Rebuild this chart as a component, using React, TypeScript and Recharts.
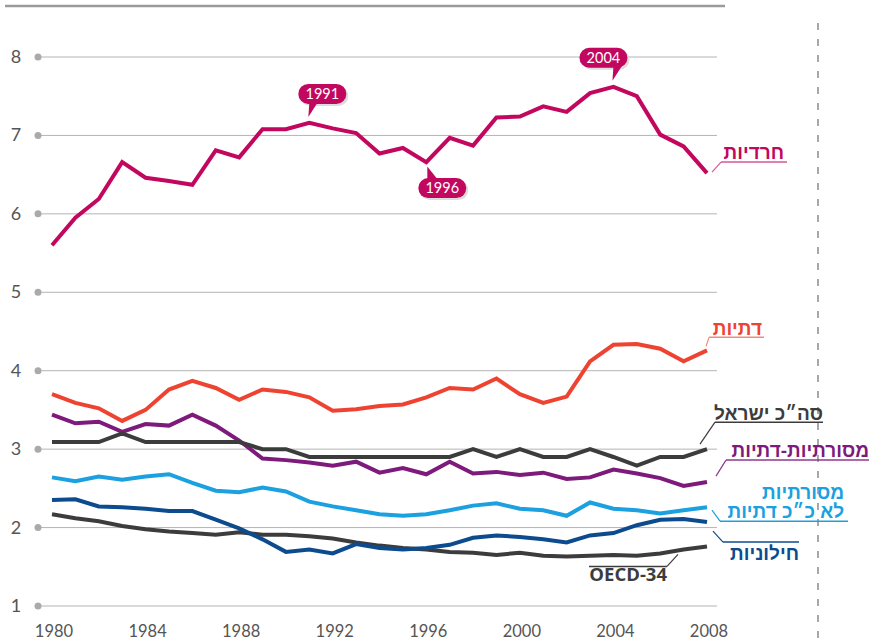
import React from 'react';
import { LineChart, Line, XAxis, YAxis, CartesianGrid } from 'recharts';

// fertility rate, Israel by religiosity vs OECD
const years = [1980, 1981, 1982, 1983, 1984, 1985, 1986, 1987, 1988, 1989, 1990, 1991, 1992, 1993, 1994, 1995, 1996, 1997, 1998, 1999, 2000, 2001, 2002, 2003, 2004, 2005, 2006, 2007, 2008];
const haredi = [5.60, 5.95, 6.19, 6.66, 6.46, 6.42, 6.37, 6.81, 6.72, 7.08, 7.08, 7.16, 7.09, 7.03, 6.77, 6.84, 6.66, 6.97, 6.87, 7.23, 7.24, 7.37, 7.30, 7.54, 7.62, 7.50, 7.01, 6.86, 6.52];
const datiyot = [3.70, 3.59, 3.52, 3.36, 3.50, 3.76, 3.87, 3.78, 3.63, 3.76, 3.73, 3.66, 3.49, 3.51, 3.55, 3.57, 3.66, 3.78, 3.76, 3.90, 3.70, 3.59, 3.67, 4.12, 4.33, 4.34, 4.28, 4.12, 4.26];
const totalIsrael = [3.09, 3.09, 3.09, 3.20, 3.09, 3.09, 3.09, 3.09, 3.09, 3.00, 3.00, 2.90, 2.90, 2.90, 2.90, 2.90, 2.90, 2.90, 3.00, 2.90, 3.00, 2.90, 2.90, 3.00, 2.90, 2.79, 2.90, 2.90, 3.00];
const masortiyotDatiyot = [3.44, 3.33, 3.35, 3.22, 3.32, 3.30, 3.44, 3.30, 3.11, 2.88, 2.86, 2.83, 2.79, 2.84, 2.70, 2.76, 2.68, 2.84, 2.69, 2.71, 2.67, 2.70, 2.62, 2.64, 2.74, 2.69, 2.63, 2.53, 2.58];
const masortiyot = [2.64, 2.59, 2.65, 2.61, 2.65, 2.68, 2.57, 2.47, 2.45, 2.51, 2.46, 2.33, 2.27, 2.22, 2.17, 2.15, 2.17, 2.22, 2.28, 2.31, 2.24, 2.22, 2.15, 2.32, 2.24, 2.22, 2.18, 2.22, 2.26];
const hiloniyot = [2.35, 2.36, 2.27, 2.26, 2.24, 2.21, 2.21, 2.10, 1.99, 1.85, 1.69, 1.72, 1.67, 1.79, 1.74, 1.72, 1.74, 1.78, 1.87, 1.90, 1.88, 1.85, 1.81, 1.90, 1.93, 2.03, 2.10, 2.11, 2.07];
const oecd = [2.17, 2.12, 2.08, 2.02, 1.98, 1.95, 1.93, 1.91, 1.94, 1.91, 1.91, 1.89, 1.86, 1.81, 1.77, 1.74, 1.72, 1.69, 1.68, 1.65, 1.68, 1.64, 1.63, 1.64, 1.65, 1.64, 1.67, 1.72, 1.76];

const xTicks = [1980, 1984, 1988, 1992, 1996, 2000, 2004, 2008];
const yTicks = [1, 2, 3, 4, 5, 6, 7, 8];

const bubbleYears = [1991, 1996, 2004];
const bubbleBelow = [1996];

const data = years.map((year, i) => ({
  year,
  haredi: haredi[i],
  datiyot: datiyot[i],
  total: totalIsrael[i],
  masDat: masortiyotDatiyot[i],
  masortiyot: masortiyot[i],
  hiloniyot: hiloniyot[i],
  oecd: oecd[i],
}));

const LAST = years.length - 1;
const HEB_FONT = '"Liberation Sans", "DejaVu Sans", sans-serif';

type EndCfg = {
  lines: { text: string; dx: number; dy: number }[];
  leader: [number, number, number, number];
  under: [number, number, number];
  color: string;
  leaderColor: string;
  size?: number;
  family?: string;
};

const endLabels: Record<string, EndCfg> = {
  haredi: {
    lines: [{ text: 'חרדיות', dx: 77, dy: -14 }],
    leader: [5, -1, 14, -11], under: [14, 80, -11],
    color: '#c2075e', leaderColor: '#d9569a',
  },
  datiyot: {
    lines: [{ text: 'דתיות', dx: 55, dy: -15 }],
    leader: [-1, -4, 2, -13], under: [2, 57, -13],
    color: '#ee4331', leaderColor: '#f28a7f',
  },
  total: {
    lines: [{ text: 'סה״כ ישראל', dx: 116, dy: -29 }],
    leader: [-7, -5, 8, -27], under: [8, 116, -27],
    color: '#3c3c3c', leaderColor: '#3c3c3c',
  },
  masDat: {
    lines: [{ text: 'מסורתיות-דתיות', dx: 162, dy: -25 }],
    leader: [9, -6, 19, -22], under: [19, 162, -22],
    color: '#7e1a7b', leaderColor: '#8e3a8b',
  },
  masortiyot: {
    lines: [
      { text: 'מסורתיות', dx: 137, dy: -8 },
      { text: 'לא כ״כ דתיות', dx: 137, dy: 11 },
    ],
    leader: [5, 3, 13, 14], under: [13, 141, 14],
    color: '#1ba0e0', leaderColor: '#1ba0e0',
  },
  hiloniyot: {
    lines: [{ text: 'חילוניות', dx: 92, dy: 38 }],
    leader: [6, 9, 16, 20], under: [16, 92, 20],
    color: '#0c4b8e', leaderColor: '#0c4b8e',
  },
  oecd: {
    lines: [{ text: 'OECD-34', dx: -40, dy: 35 }],
    leader: [-29, 8, -40, 20], under: [-118, -40, 20],
    color: '#3c3c3c', leaderColor: '#3c3c3c',
    size: 18.5, family: '"Open Sans", sans-serif',
  },
};

const renderEnd = (cfg: EndCfg, x: number, y: number, key: string) => {
  const [a, b, c, d] = cfg.leader;
  const [u1, u2, uy] = cfg.under;
  return (
    <g key={key}>
      <line x1={x + a} y1={y + b} x2={x + c} y2={y + d} stroke={cfg.leaderColor} strokeWidth={1.2} />
      <line x1={x + u1} y1={y + uy} x2={x + u2} y2={y + uy} stroke={cfg.leaderColor} strokeWidth={1.5} />
      {cfg.lines.map((l, i) => (
        <text key={i} x={x + l.dx} y={y + l.dy} textAnchor="end" fill={cfg.color}
          fontFamily={cfg.family || HEB_FONT} fontWeight={700} fontSize={cfg.size || 19}>
          {l.text}
        </text>
      ))}
    </g>
  );
};

const renderBubble = (label: string, x: number, y: number, below: boolean) => {
  const w = 48;
  const h = 20;
  const tipY = below ? y + 4.5 : y - 6;
  const rx = below ? x - 8 : label === '2004' ? x - 34 : x - 11;
  const ry = below ? y + 16 : y - 39;
  const edge = below ? ry : ry + h;
  const tipX = below ? x + 1 : x - 1;
  const pts = below
    ? `${tipX},${tipY} ${tipX},${edge + 1} ${tipX + 10},${edge + 1}`
    : `${tipX},${tipY} ${tipX + 1},${edge - 1} ${tipX + 9},${edge - 1}`;
  return (
    <g key={label}>
      <rect x={rx + 2} y={ry + 2} width={w} height={h} rx={10} fill="#dcdcdc" />
      <rect x={rx} y={ry} width={w} height={h} rx={10} fill="#c2075e" />
      <polygon points={pts} fill="#c2075e" />
      <text x={rx + w / 2} y={ry + h / 2 + 5} textAnchor="middle" fill="#fff"
        fontFamily="Lato, sans-serif" fontSize={14.5}>
        {label}
      </text>
    </g>
  );
};

const makeLabel = (key: string) => (props: any) => {
  const { x, y, index } = props;
  const parts: React.ReactNode[] = [];
  if (key === 'haredi') {
    const yr = years[index];
    if (bubbleYears.includes(yr)) parts.push(renderBubble(String(yr), x, y, bubbleBelow.includes(yr)));
  }
  if (index === LAST) parts.push(renderEnd(endLabels[key], x, y, 'end'));
  if (!parts.length) return null;
  return <g>{parts}</g>;
};

const YTick = (props: any) => {
  const { y, payload } = props;
  return (
    <g>
      <circle cx={38} cy={y} r={3.5} fill="#aaaaaa" />
      <text x={16} y={y + 6} textAnchor="middle" fill="#555" fontFamily="Lato, sans-serif" fontSize={18}>
        {payload.value}
      </text>
    </g>
  );
};

const XTick = (props: any) => {
  const { x, y, payload } = props;
  return (
    <text x={x + 2} y={y + 23} textAnchor="middle" fill="#555" fontFamily="Lato, sans-serif" fontSize={16.5}>
      {payload.value}
    </text>
  );
};

const series = [
  { key: 'oecd', color: '#3c3c3c' },
  { key: 'hiloniyot', color: '#0c4b8e' },
  { key: 'masortiyot', color: '#1ba0e0' },
  { key: 'masDat', color: '#7e1a7b' },
  { key: 'total', color: '#3c3c3c' },
  { key: 'datiyot', color: '#ee4331' },
  { key: 'haredi', color: '#c2075e' },
];

export default function App() {
  return (
    <div style={{ position: 'absolute', left: 0, top: 0, width: 870, height: 642, background: '#fff' }}>
      <svg width={870} height={642} style={{ position: 'absolute', left: 0, top: 0 }}>
        <line x1={5} y1={6} x2={725} y2={6} stroke="#9a9a9a" strokeWidth={2.5} />
        <line x1={818} y1={23} x2={818} y2={642} stroke="#a8a8a8" strokeWidth={2} strokeDasharray="7 9" />
      </svg>
      <div style={{ position: 'absolute', left: 0, top: 0 }}>
        <LineChart width={870} height={642} data={data} margin={{ top: 57, right: 153, bottom: 0, left: 0 }}>
          <CartesianGrid horizontal vertical={false} stroke="#b4b4b4" />
          <XAxis dataKey="year" type="number" domain={[1980, 2008]} ticks={xTicks} padding={{ left: 14, right: 10 }}
            axisLine={false} tickLine={false} height={36} tick={<XTick />} interval={0} />
          <YAxis type="number" domain={[1, 8]} ticks={yTicks} width={38} axisLine={false} tickLine={false}
            tick={<YTick />} interval={0} />
          {series.map((s) => (
            <Line key={s.key} dataKey={s.key} type="linear" stroke={s.color} strokeWidth={4} dot={false}
              activeDot={false} isAnimationActive={false} label={makeLabel(s.key)} />
          ))}
        </LineChart>
      </div>
    </div>
  );
}
